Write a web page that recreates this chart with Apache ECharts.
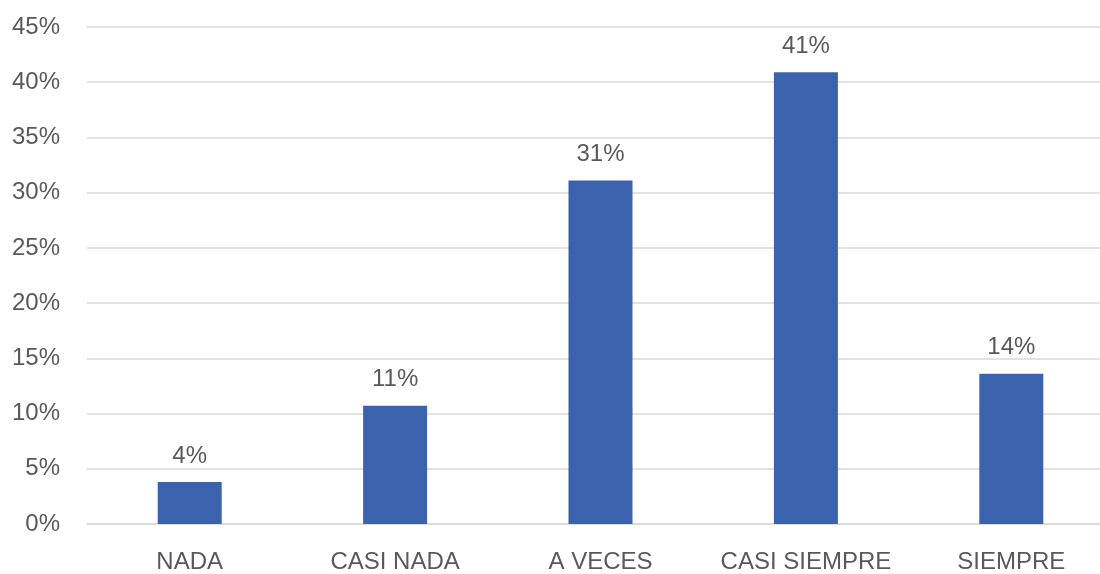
<!DOCTYPE html>
<html><head><meta charset="utf-8">
<script src="https://cdn.jsdelivr.net/npm/echarts@6/dist/echarts.min.js"></script>
<style>html,body{margin:0;padding:0;background:#fff;overflow:hidden;width:1100px;height:574px}#c{width:1114px;height:574px}</style>
</head><body><div id="c"></div>
<script>
var categories = ["NADA", "CASI NADA", "A VECES", "CASI SIEMPRE", "SIEMPRE"];
var values = [3.8, 10.7, 31.1, 40.9, 13.6];
var yTicks = [0, 5, 10, 15, 20, 25, 30, 35, 40, 45];

var chart = echarts.init(document.getElementById('c'));
var font = '"Liberation Sans", Arial, sans-serif';
chart.setOption({
  animation: false,
  grid: { left: 87, top: 27, right: 0, bottom: 49, containLabel: false },
  xAxis: {
    type: 'category', data: categories,
    axisTick: { show: false },
    axisLine: { lineStyle: { color: '#D9D9D9', width: 1.5 } },
    axisLabel: { color: '#595959', fontSize: 24, fontFamily: font, margin: 26, interval: 0, hideOverlap: false }
  },
  yAxis: {
    type: 'value', min: yTicks[0], max: yTicks[yTicks.length - 1], interval: 5,
    axisLine: { show: false }, axisTick: { show: false },
    splitLine: { lineStyle: { color: '#D9D9D9', width: 1.5 } },
    axisLabel: { color: '#595959', fontSize: 24, fontFamily: font, margin: 27,
      formatter: function (v) { return v + '%'; } }
  },
  series: [{
    type: 'bar', data: values, barWidth: 64,
    itemStyle: { color: '#3B63AD' },
    label: { show: true, position: 'top', distance: 14, color: '#595959', fontSize: 24, fontFamily: font,
      formatter: function (p) { return Math.round(p.value) + '%'; } }
  }]
});
</script></body></html>
